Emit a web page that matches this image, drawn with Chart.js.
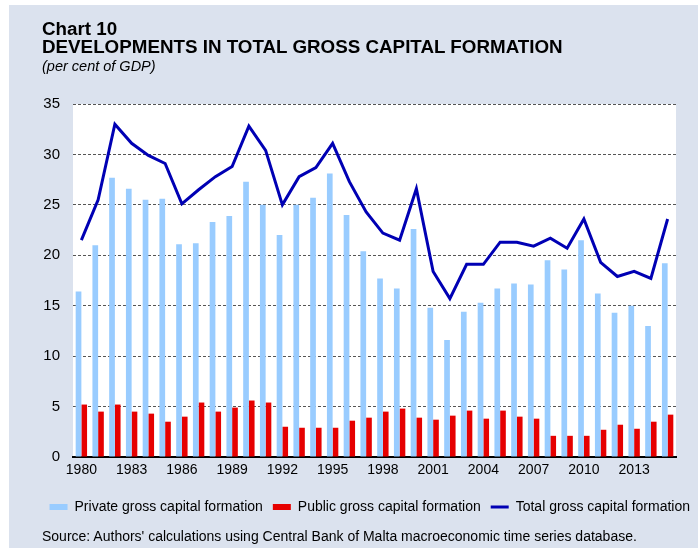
<!DOCTYPE html>
<html>
<head>
<meta charset="utf-8">
<script src="https://cdn.jsdelivr.net/npm/chart.js@4"></script>
<style>
  body { margin: 0; width: 700px; height: 548px; overflow: hidden; position: relative; background: #ffffff; font-family: "Liberation Sans", Arial, sans-serif; }
  #panel { position: absolute; left: 9px; top: 5px; width: 689px; height: 543px; background: #dbe2ee; }
  .txt { position: absolute; left: 42px; color: #000; white-space: nowrap; }
  #t1 { top: 20px; font-size: 18.8px; font-weight: bold; line-height: 18.8px; }
  #t2 { top: 38px; font-size: 18.8px; font-weight: bold; line-height: 18.8px; }
  #t3 { top: 59px; font-size: 14.5px; font-style: italic; line-height: 14.5px; }
  #src { top: 529px; font-size: 14px; line-height: 14px; }
  #chart { position: absolute; left: 0; top: 0; }
</style>
</head>
<body>
<div id="panel"></div>
<canvas id="chart" width="700" height="548"></canvas>
<div class="txt" id="t1">Chart 10</div>
<div class="txt" id="t2">DEVELOPMENTS IN TOTAL GROSS CAPITAL FORMATION</div>
<div class="txt" id="t3">(per cent of GDP)</div>
<div class="txt" id="src">Source: Authors' calculations using Central Bank of Malta macroeconomic time series database.</div>
<script>
// Données (en % du PIB)
const years = ['1980','1981','1982','1983','1984','1985','1986','1987','1988','1989',
               '1990','1991','1992','1993','1994','1995','1996','1997','1998','1999',
               '2000','2001','2002','2003','2004','2005','2006','2007','2008','2009',
               '2010','2011','2012','2013','2014','2015'];

const privateGCF = [16.4, 21.0, 27.7, 26.6, 25.5, 25.6, 21.1, 21.2, 23.3, 23.9,
                    27.3, 25.0, 22.0, 25.0, 25.7, 28.1, 24.0, 20.4, 17.7, 16.7,
                    22.6, 14.8, 11.6, 14.4, 15.3, 16.7, 17.2, 17.1, 19.5, 18.6,
                    21.5, 16.2, 14.3, 15.0, 13.0, 19.2];

const publicGCF = [5.2, 4.5, 5.2, 4.5, 4.3, 3.5, 4.0, 5.4, 4.5, 4.9,
                   5.6, 5.4, 3.0, 2.9, 2.9, 2.9, 3.6, 3.9, 4.5, 4.8,
                   3.9, 3.7, 4.1, 4.6, 3.8, 4.6, 4.0, 3.8, 2.1, 2.1,
                   2.1, 2.7, 3.2, 2.8, 3.5, 4.2];

const totalGCF = [21.5, 25.5, 33.0, 31.1, 29.9, 29.1, 25.1, 26.5, 27.8, 28.8,
                  32.8, 30.4, 25.0, 27.8, 28.7, 31.1, 27.3, 24.3, 22.2, 21.5,
                  26.6, 18.4, 15.7, 19.1, 19.1, 21.3, 21.3, 20.9, 21.7, 20.7,
                  23.6, 19.3, 17.9, 18.4, 17.7, 23.6];

const yTicks = [0, 5, 10, 15, 20, 25, 30, 35];

const colPrivate = '#99ccff';
const colPublic = '#e60000';
const colTotal = '#0000b4';

// fond blanc de la zone de tracé
const plotBg = {
    id: 'plotBg',
    beforeDraw: (chart) => {
        const a = chart.chartArea;
        const ctx = chart.ctx;
        ctx.save();
        ctx.fillStyle = '#ffffff';
        ctx.fillRect(a.left, a.top, a.right - a.left, a.bottom - a.top);
        ctx.restore();
    }
};

const ctx = document.getElementById('chart');

new Chart(ctx, {
    data: {
        labels: years,
        datasets: [
            {
                type: 'line',
                label: 'Total gross capital formation',
                data: totalGCF,
                borderColor: colTotal,
                backgroundColor: colTotal,
                borderWidth: 3,
                pointRadius: 0,
                tension: 0,
                order: 0
            },
            {
                type: 'bar',
                label: 'Private gross capital formation',
                data: privateGCF,
                backgroundColor: colPrivate,
                barPercentage: 1,
                categoryPercentage: 0.68,
                order: 1
            },
            {
                type: 'bar',
                label: 'Public gross capital formation',
                data: publicGCF,
                backgroundColor: colPublic,
                barPercentage: 1,
                categoryPercentage: 0.68,
                order: 2
            }
        ]
    },
    options: {
        responsive: false,
        animation: false,
        layout: {
            padding: { left: 0, top: 104, right: 0, bottom: 24 }
        },
        scales: {
            x: {
                grid: { display: false, drawTicks: false },
                border: { display: true, color: '#000000', width: 2 },
                ticks: {
                    autoSkip: false,
                    maxRotation: 0,
                    padding: 5,
                    color: '#000000',
                    font: { family: 'Liberation Sans', size: 14 },
                    callback: function (value, index) {
                        return index % 3 === 0 ? this.getLabelForValue(value) : '';
                    }
                },
                afterFit: (scale) => { scale.height = 33; }
            },
            y: {
                min: 0,
                max: 35,
                afterBuildTicks: (scale) => { scale.ticks = yTicks.map(v => ({ value: v })); },
                grid: {
                    color: '#555555',
                    lineWidth: 1,
                    drawTicks: false
                },
                border: { display: false, dash: [3, 2] },
                ticks: {
                    padding: 13,
                    color: '#000000',
                    font: { family: 'Liberation Sans', size: 15 }
                },
                afterFit: (scale) => { scale.width = 73; }
            },
            // axe vide à droite : garde la marge de droite sans rétrécir la légende
            yRight: {
                position: 'right',
                grid: { display: false, drawTicks: false },
                border: { display: false },
                ticks: { display: false },
                afterFit: (scale) => { scale.width = 24; }
            }
        },
        plugins: {
            legend: {
                position: 'bottom',
                align: 'end',
                labels: {
                    usePointStyle: true,
                    pointStyleWidth: 18,
                    boxHeight: 6,
                    padding: 10,
                    color: '#000000',
                    font: { family: 'Liberation Sans', size: 14 },
                    generateLabels: () => [
                        { text: 'Private gross capital formation', fillStyle: colPrivate, strokeStyle: colPrivate, lineWidth: 0, pointStyle: 'rect', datasetIndex: 1 },
                        { text: 'Public gross capital formation', fillStyle: colPublic, strokeStyle: colPublic, lineWidth: 0, pointStyle: 'rect', datasetIndex: 2 },
                        { text: 'Total gross capital formation', fillStyle: colTotal, strokeStyle: colTotal, lineWidth: 3, pointStyle: 'line', datasetIndex: 0 }
                    ]
                }
            },
            tooltip: { enabled: false }
        }
    },
    plugins: [plotBg]
});
</script>
</body>
</html>
